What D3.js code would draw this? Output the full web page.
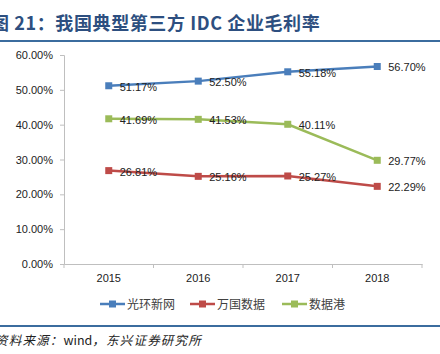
<!DOCTYPE html>
<meta charset="utf-8">
<script src="https://cdn.jsdelivr.net/npm/d3@7/dist/d3.min.js"></script>
<style>
  body { margin: 0; background: #fff; }
  .title { font-family: "Noto Sans CJK SC", "Liberation Sans", sans-serif; font-size: 18px; font-weight: bold; fill: #2d4f80; }
  .tick text, .val { font-family: "Liberation Sans", Arial, sans-serif; font-size: 11px; fill: #222; }
  .legend text { font-family: "Noto Sans CJK SC", sans-serif; font-size: 12px; fill: #404040; }
  .source { font-family: "Noto Sans CJK SC", sans-serif; font-size: 12.5px; font-style: italic; fill: #222; }
</style>
<svg width="440" height="354"></svg>
<script>

// data
const years = ["2015", "2016", "2017", "2018"]
const seriesNames = ["光环新网", "万国数据", "数据港"]
const guanghuan = [51.17, 52.50, 55.18, 56.70]
const wanguo = [26.81, 25.16, 25.27, 22.29]
const shujugang = [41.69, 41.53, 40.11, 29.77]
const yTicks = [0, 10, 20, 30, 40, 50, 60]
const colors = ["#4a7ebb", "#be4b48", "#9bbb59"]

const series = [guanghuan, wanguo, shujugang].map((vals, i) => ({
  name: seriesNames[i],
  color: colors[i],
  values: vals.map((v, j) => ({year: years[j], value: v}))
}))

const svg = d3.select("svg")

// header / footer
svg.append("text")
  .attr("class", "title")
  .attr("x", -9)
  .attr("y", 30)
  .attr("letter-spacing", 0.6)
  .text("图 21：我国典型第三方 IDC 企业毛利率")

svg.append("rect").attr("x", 0).attr("y", 40).attr("width", 440).attr("height", 2).attr("fill", "#3b6c9e")
svg.append("rect").attr("x", 0).attr("y", 325).attr("width", 440).attr("height", 2).attr("fill", "#3b6c9e")

const src = svg.append("text")
  .attr("class", "source")
  .attr("x", -5)
  .attr("y", 345)
  .attr("letter-spacing", 1.2)
src.append("tspan").text("资料来源：")
src.append("tspan").attr("font-style", "normal").attr("letter-spacing", 0).text("wind")
src.append("tspan").text("，东兴证券研究所")

// scales
const x = d3.scaleBand().domain(years).range([64, 422])
const y = d3.scaleLinear().domain([0, 60]).range([264, 55])

// axes
const yAxis = svg.append("g")
  .attr("transform", "translate(64,0)")
  .call(d3.axisLeft(y).tickValues(yTicks).tickSize(4).tickPadding(7).tickFormat(d => d.toFixed(2) + "%"))
yAxis.selectAll("line, path").attr("stroke", "#bfbfbf")

const xAxis = svg.append("g")
  .attr("transform", "translate(0,264)")
  .call(d3.axisBottom(x).tickSize(0).tickPadding(10))
xAxis.select("path").attr("stroke", "#bfbfbf")
xAxis.selectAll("text").attr("dy", "0.71em")

// category boundary ticks
svg.append("g").selectAll("line")
  .data(years.map(d => x(d)).concat([x.range()[1]]))
  .join("line")
  .attr("x1", d => d).attr("x2", d => d)
  .attr("y1", 264).attr("y2", 268)
  .attr("stroke", "#bfbfbf")

const cx = d => x(d.year) + x.bandwidth() / 2

const line = d3.line().x(cx).y(d => y(d.value))

const g = svg.append("g").selectAll("g").data(series).join("g")

g.append("path")
  .attr("d", d => line(d.values))
  .attr("fill", "none")
  .attr("stroke", d => d.color)
  .attr("stroke-width", 2.5)

g.each(function(s) {
  d3.select(this).selectAll("rect")
    .data(s.values)
    .join("rect")
    .attr("x", d => cx(d) - 3.5)
    .attr("y", d => y(d.value) - 3.5)
    .attr("width", 7).attr("height", 7)
    .attr("fill", s.color)

  d3.select(this).selectAll("text")
    .data(s.values)
    .join("text")
    .attr("class", "val")
    .attr("x", d => cx(d) + 11)
    .attr("y", d => y(d.value) + 5)
    .text(d => d.value.toFixed(2) + "%")
})

// legend
const legX = [100, 190, 282]
const leg = svg.append("g").attr("class", "legend").selectAll("g").data(series).join("g")
  .attr("transform", (d, i) => `translate(${legX[i]},304)`)
leg.append("line").attr("x1", 0).attr("x2", 25).attr("stroke", d => d.color).attr("stroke-width", 2.5)
leg.append("rect").attr("x", 9).attr("y", -3.5).attr("width", 7).attr("height", 7).attr("fill", d => d.color)
leg.append("text").attr("x", 27).attr("y", 4.5).text(d => d.name)

</script>
